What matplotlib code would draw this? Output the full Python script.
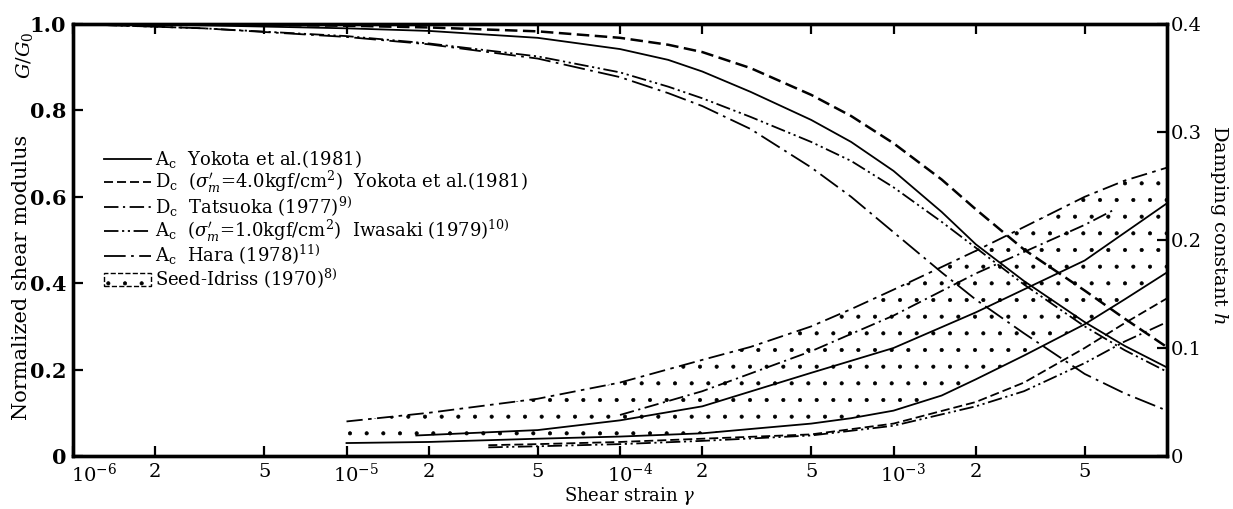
import matplotlib
matplotlib.use('Agg')
import matplotlib.pyplot as plt
import matplotlib.transforms as mtransforms
from matplotlib.lines import Line2D
from matplotlib.patches import Patch
from matplotlib.ticker import NullLocator

plt.rcParams['font.family'] = ['DejaVu Serif']
plt.rcParams['mathtext.fontset'] = 'dejavuserif'
plt.rcParams['hatch.linewidth'] = 0.5
plt.rcParams['hatch.color'] = 'black'

# ---------------- data ----------------
# G/G0 curves (left axis)
g_strain = [1e-6, 3e-6, 1e-5, 2e-5, 5e-5, 1e-4, 1.5e-4, 2e-4, 3e-4, 5e-4,
            7e-4, 1e-3, 1.5e-3, 2e-3, 3e-3, 5e-3, 7e-3, 1e-2]
g_ac_yokota = [1.0, 0.997, 0.99, 0.984, 0.968, 0.942, 0.917, 0.89, 0.843,
               0.778, 0.727, 0.66, 0.565, 0.49, 0.405, 0.31, 0.255, 0.205]
g_dc_yokota = [1.0, 0.999, 0.996, 0.992, 0.983, 0.968, 0.952, 0.935, 0.898,
               0.836, 0.787, 0.724, 0.64, 0.571, 0.478, 0.383, 0.318, 0.252]
g_ac_iwasaki = [1.0, 0.99, 0.972, 0.955, 0.925, 0.888, 0.855, 0.828, 0.785,
                0.727, 0.683, 0.622, 0.542, 0.482, 0.397, 0.30, 0.245, 0.195]
g_ac_hara = [1.0, 0.99, 0.97, 0.953, 0.92, 0.877, 0.84, 0.81, 0.757,
             0.668, 0.60, 0.518, 0.425, 0.362, 0.284, 0.19, 0.145, 0.105]

# damping constant h curves (right axis)
band_strain = [1e-5, 2e-5, 5e-5, 1e-4, 2e-4, 3e-4, 5e-4, 7e-4, 1e-3,
               1.5e-3, 2e-3, 3e-3, 5e-3, 7e-3, 1e-2]
band_upper = [0.032, 0.040, 0.053, 0.068, 0.089, 0.101, 0.120, 0.136, 0.154,
              0.175, 0.190, 0.212, 0.240, 0.255, 0.267]
band_lower = [0.012, 0.013, 0.016, 0.018, 0.021, 0.025, 0.030, 0.035, 0.042,
              0.056, 0.071, 0.093, 0.122, 0.145, 0.170]

h_ac_yokota_strain = [1.8e-5, 5e-5, 1e-4, 2e-4, 5e-4, 1e-3, 2e-3, 5e-3, 1e-2]
h_ac_yokota = [0.019, 0.024, 0.033, 0.046, 0.077, 0.100, 0.133, 0.181, 0.234]

h_dc_tatsuoka_strain = [1e-4, 2e-4, 5e-4, 1e-3, 2e-3, 5e-3, 6.4e-3]
h_dc_tatsuoka = [0.038, 0.060, 0.097, 0.130, 0.169, 0.214, 0.228]

h_dc_yokota_strain = [3.3e-5, 5e-5, 1e-4, 2e-4, 5e-4, 1e-3, 2e-3, 3e-3,
                      5e-3, 7e-3, 1e-2]
h_dc_yokota = [0.010, 0.011, 0.013, 0.016, 0.020, 0.030, 0.050, 0.068,
               0.100, 0.123, 0.146]

h_ac_iwasaki_strain = [3.3e-5, 5e-5, 1e-4, 2e-4, 5e-4, 1e-3, 2e-3, 3e-3,
                       5e-3, 7e-3, 1e-2]
h_ac_iwasaki = [0.008, 0.009, 0.011, 0.014, 0.019, 0.028, 0.046, 0.060,
                0.086, 0.106, 0.124]

xtick_vals = [1e-6, 2e-6, 5e-6, 1e-5, 2e-5, 5e-5, 1e-4, 2e-4, 5e-4,
              1e-3, 2e-3, 5e-3]
xtick_labels = ['$10^{-6}$', '2', '5', '$10^{-5}$', '2', '5', '$10^{-4}$',
                '2', '5', '$10^{-3}$', '2', '5']
ytick_left = [0, 0.2, 0.4, 0.6, 0.8, 1.0]
ytick_left_labels = ['0', '0.2', '0.4', '0.6', '0.8', '1.0']
ytick_right = [0, 0.1, 0.2, 0.3, 0.4]
ytick_right_labels = ['0', '0.1', '0.2', '0.3', '0.4']

legend_labels = [
    r'A$_\mathrm{c}$  Yokota et al.(1981)',
    r'D$_\mathrm{c}$  ($\sigma^{\prime}_{m}$=4.0kgf/cm$^2$)  Yokota et al.(1981)',
    r'D$_\mathrm{c}$  Tatsuoka (1977)$^{9)}$',
    r'A$_\mathrm{c}$  ($\sigma^{\prime}_{m}$=1.0kgf/cm$^2$)  Iwasaki (1979)$^{10)}$',
    r'A$_\mathrm{c}$  Hara (1978)$^{11)}$',
    r'Seed-Idriss (1970)$^{8)}$',
]

# ---------------- styles ----------------
LS_SOLID = '-'
LS_DASH = (0, (5, 2.2))
LS_DASHDOT = (0, (8, 2.5, 1.2, 2.5))
LS_DASHDOTDOT = (0, (8, 2, 1.2, 2, 1.2, 2))
LS_HARA = (0, (12, 3, 1.5, 3))
LW = 1.3

W, H = 1233, 509
fig = plt.figure(figsize=(W / 100, H / 100), dpi=100)
x0, x1, y0, y1 = 73, 1167, 24, 456
ax = fig.add_axes([x0 / W, 1 - y1 / H, (x1 - x0) / W, (y1 - y0) / H])
ax2 = ax.twinx()

ax.set_xscale('log')
ax.set_xlim(1e-6, 1e-2)
ax.set_ylim(0, 1.0)
ax2.set_ylim(0, 0.4)

# G/G0 curves
ax.plot(g_strain, g_ac_yokota, color='black', lw=LW, ls=LS_SOLID)
ax.plot(g_strain, g_dc_yokota, color='black', lw=1.8, ls=LS_DASH)
ax.plot(g_strain, g_ac_iwasaki, color='black', lw=LW, ls=LS_DASHDOTDOT)
ax.plot(g_strain, g_ac_hara, color='black', lw=LW, ls=LS_HARA)

# Seed-Idriss band
ax2.fill_between(band_strain, band_lower, band_upper, facecolor='none',
                 edgecolor='black', hatch='.', linewidth=0)
ax2.plot(band_strain, band_upper, color='black', lw=LW, ls=(0, (9, 3, 2, 3)))
ax2.plot(band_strain, band_lower, color='black', lw=LW, ls=LS_SOLID)

# h curves
ax2.plot(h_ac_yokota_strain, h_ac_yokota, color='black', lw=LW, ls=LS_SOLID)
ax2.plot(h_dc_tatsuoka_strain, h_dc_tatsuoka, color='black', lw=LW, ls=LS_DASHDOT)
ax2.plot(h_dc_yokota_strain, h_dc_yokota, color='black', lw=LW, ls=LS_DASH)
ax2.plot(h_ac_iwasaki_strain, h_ac_iwasaki, color='black', lw=LW, ls=LS_DASHDOTDOT)

# ticks
ax.set_xticks(xtick_vals)
ax.set_xticklabels(xtick_labels, fontsize=14)
ax.xaxis.set_minor_locator(NullLocator())
ax.set_yticks(ytick_left)
ax.set_yticklabels(ytick_left_labels, fontsize=15, fontweight='bold')
ax2.set_yticks(ytick_right)
ax2.set_yticklabels(ytick_right_labels, fontsize=14)
ax.tick_params(axis='x', which='both', direction='in', length=7, width=1.6,
               top=True, pad=5)
ax.tick_params(axis='y', direction='in', length=7, width=1.6, pad=5)
ax2.tick_params(axis='y', direction='in', length=7, width=1.6, pad=3)
for a in (ax, ax2):
    for s in a.spines.values():
        s.set_linewidth(2.4)

# shift the decade labels so "10" sits on the tick (first one clear of "0")
for lab in ax.get_xticklabels():
    txt = lab.get_text()
    if txt == '$10^{-6}$':
        dx = 15
    elif txt.startswith('$10'):
        dx = 7
    else:
        dx = 0
    lab.set_transform(lab.get_transform() +
                      mtransforms.ScaledTranslation(dx / 72, 0, fig.dpi_scale_trans))

# labels
fig.text(22 / W, 1 - 277 / H, 'Normalized shear modulus', rotation=90,
         ha='center', va='center', fontsize=15)
fig.text(25 / W, 1 - 55 / H, r'$G/G_0$', rotation=90, ha='center',
         va='center', fontsize=14)
fig.text(1219 / W, 1 - 225 / H, r'Damping constant $h$', rotation=270,
         ha='center', va='center', fontsize=14)
fig.text(630 / W, 1 - 496 / H, r'Shear strain $\gamma$', ha='center',
         va='center', fontsize=13)

# legend
handles = [
    Line2D([], [], color='black', lw=LW, ls=LS_SOLID),
    Line2D([], [], color='black', lw=LW, ls=LS_DASH),
    Line2D([], [], color='black', lw=LW, ls=LS_DASHDOT),
    Line2D([], [], color='black', lw=LW, ls=LS_DASHDOTDOT),
    Line2D([], [], color='black', lw=LW, ls=LS_HARA),
    Patch(facecolor='none', edgecolor='black', hatch='.', linestyle='--', lw=1.0),
]
ax.legend(handles, legend_labels, loc='upper left',
          bbox_to_anchor=(104 / W, 1 - 148 / H), bbox_transform=fig.transFigure,
          frameon=False, fontsize=13, handlelength=2.6, handletextpad=0.25,
          labelspacing=-0.06, borderpad=0, borderaxespad=0)

fig.savefig('out.png', dpi=100)
